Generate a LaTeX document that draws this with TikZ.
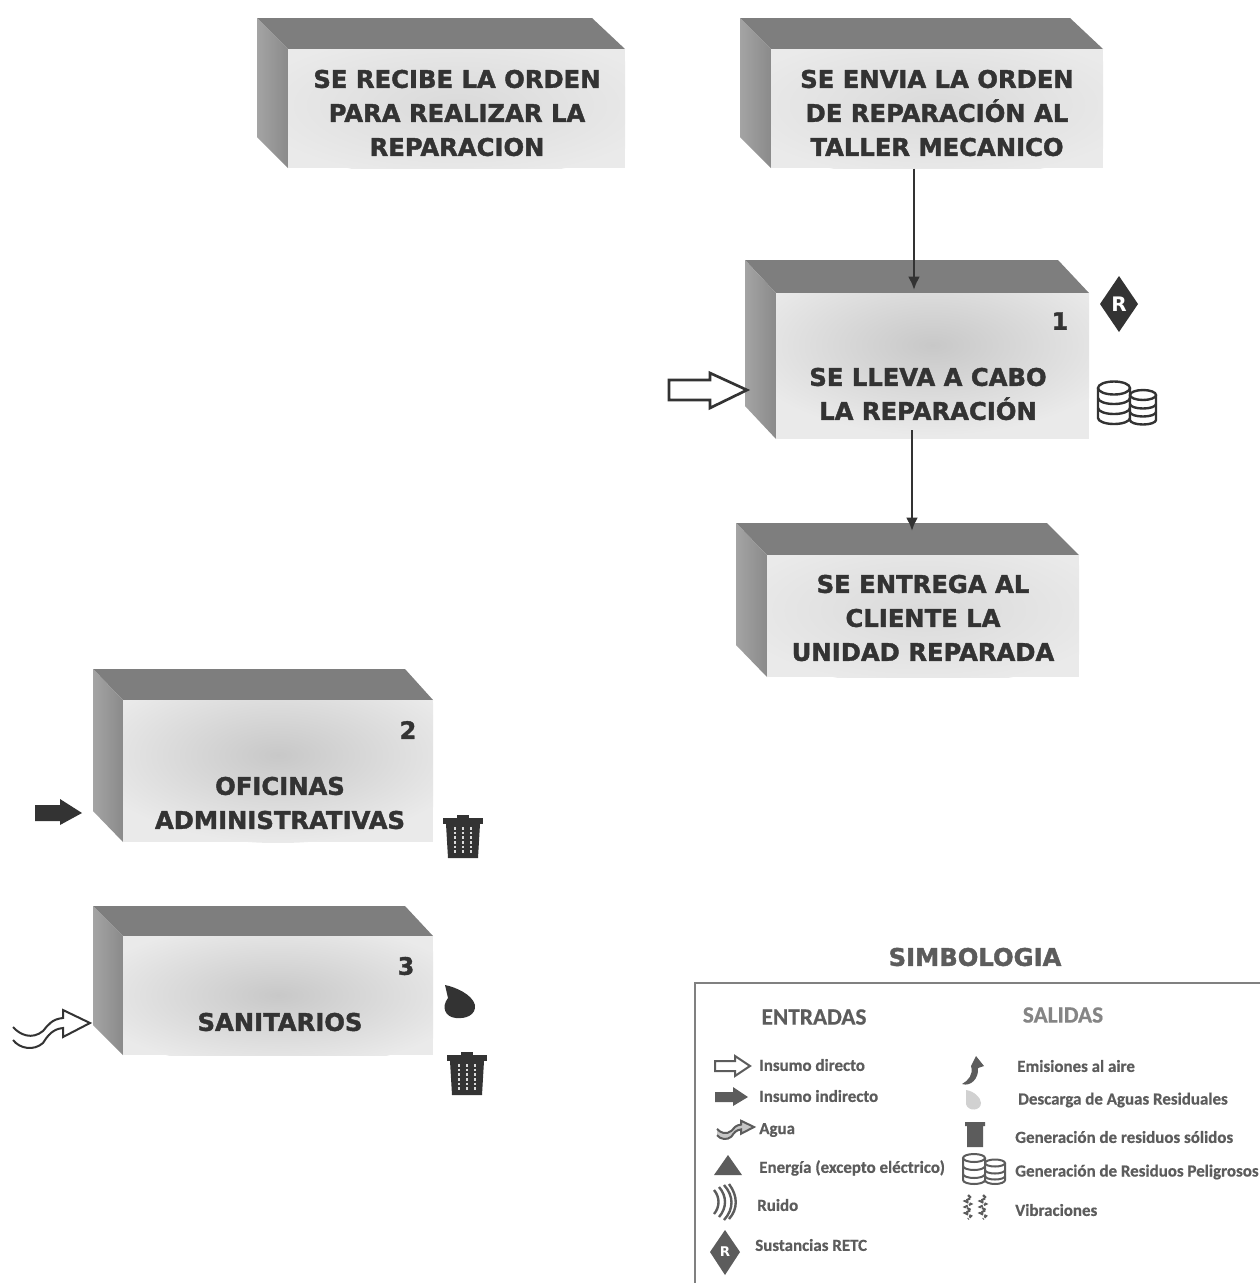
\documentclass[tikz,border=0pt]{standalone}
\usepackage{fontspec}
\setmainfont{DejaVu Sans}
\newfontfamily\boxfont{DejaVu Sans}[BoldFeatures={FakeBold=1.6}]
\newfontfamily\legfont{Carlito}[BoldFeatures={FakeBold=0.6}]
\usetikzlibrary{arrows.meta}
\definecolor{topface}{HTML}{7E7E7E}
\definecolor{leftdark}{HTML}{8A8A8A}
\definecolor{leftlight}{HTML}{A4A4A4}
\definecolor{frontface}{HTML}{EAEAEA}
\definecolor{frontmid}{HTML}{C8C8C8}
\definecolor{frontsoft}{HTML}{DADADA}
\definecolor{ink}{HTML}{333333}
\definecolor{legink}{HTML}{5C5C5C}
\tikzset{
  boxtext/.style={font=\boxfont\fontsize{18.2}{25.5}\selectfont\bfseries,text=ink,align=center,inner sep=0pt},
  numtext/.style={font=\boxfont\fontsize{18}{20}\selectfont\bfseries,text=ink,inner sep=0pt},
  legtext/.style={font=\legfont\fontsize{12.7}{14}\selectfont\bfseries,text=legink,anchor=west,inner sep=0pt},
  leghead/.style={font=\legfont\fontsize{17.5}{18}\selectfont\bfseries,text=legink,inner sep=0pt},
  flow/.style={draw=ink,line width=2pt,-{Latex[length=10pt,width=9pt]}},
  hollow/.style={draw=ink,line width=2pt,fill=white,line join=miter},
  solidicon/.style={fill=ink,draw=none},
  legicon/.style={fill=legink,draw=none},
  legline/.style={draw=legink,line width=1.8pt,fill=none},
  frontnode/.style={fill=frontface,draw=none,inner sep=0pt,anchor=north west},
}
% back left, top, front left, front top, front right, front bottom, back right, centre of shading y, name
\newcommand{\prismbox}[9]{%
  \pgfmathsetmacro{\prw}{(#5-#3)*0.75}%
  \pgfmathsetmacro{\prh}{(#6-#4)*0.75}%
  \pgfmathsetmacro{\prcx}{(#3+#5)/2}%
  \fill[topface] (#1,#2) -- (#7,#2) -- (#5,#4) -- (#3,#4) -- cycle;
  \shade[left color=leftlight,right color=leftdark] (#1,#2) -- (#3,#4) -- (#3,#6) -- (#1,{#6-(#4-#2)}) -- cycle;
  \node[frontnode,minimum width=\prw pt,minimum height=\prh pt] (#9) at (#3,#4) {};
  \begin{scope}
    \clip (#3,#4) rectangle (#5,#6);
    \shade[inner color=\prmid,outer color=frontface] (\prcx,#8) ellipse ({(#5-#3)*0.62} and {(#6-#4)*0.62});
  \end{scope}
}
\newcommand{\trashbin}[4]{% x,y (top left), scale, style
  \begin{scope}[shift={(#1,#2)},scale=#3]
    \fill[#4] (14,0) rectangle (26,3);
    \fill[#4] (0,3) rectangle (40,9);
    \fill[#4] (3,9) -- (37,9) -- (35,43) -- (5,43) -- cycle;
    \foreach \bx in {12,20,28}
      \draw[white!70!gray,line width=0.9pt,dash pattern=on 2pt off 1.5pt] (\bx,12) -- (\bx,38);
  \end{scope}
}
\newcommand{\barrels}[3]{% x,y,colour
  \begin{scope}[shift={(#1,#2)}]
    \begin{scope}[draw=#3,line width=1.8pt,fill=white]
      \draw (1,7) -- (1,37) arc[start angle=180,end angle=0,x radius=16,y radius=6] -- (33,7);
      \draw (17,7) ellipse (16 and 6.5);
      \draw (1,17) arc[start angle=180,end angle=0,x radius=16,y radius=6];
      \draw (1,27) arc[start angle=180,end angle=0,x radius=16,y radius=6];
      \filldraw[fill=white] (33,14) -- (33,39) arc[start angle=180,end angle=0,x radius=13,y radius=4.5] -- (59,14);
      \draw[fill=white] (46,14) ellipse (13 and 5);
      \draw (33,23) arc[start angle=180,end angle=0,x radius=13,y radius=4.5];
      \draw (33,31) arc[start angle=180,end angle=0,x radius=13,y radius=4.5];
    \end{scope}
  \end{scope}
}
\newcommand{\wavyarrow}[4]{% tip x,y,scale,options
  \begin{scope}[shift={(#1,#2)},scale=#3]
    \draw[#4] (-77,4) .. controls (-70,12) and (-58,17) .. (-47,8)
      .. controls (-42,2) and (-38,-4) .. (-27,-5) -- (-27,-13) -- (0,0) -- (-27,14) -- (-27,5)
      .. controls (-37,6) and (-42,12) .. (-47,20)
      .. controls (-56,28) and (-70,26) .. (-77,17);
  \end{scope}
}
\begin{document}
\begin{tikzpicture}[x=0.75pt,y=-0.75pt]
\useasboundingbox (0,0) rectangle (1260,1283);
\fill[white] (0,0) rectangle (1260,1283);

% boxes
\def\prmid{frontsoft}
\prismbox{257}{18}{288}{49}{625}{168}{592}{105}{boxa}
\prismbox{740}{18}{771}{49}{1103}{168}{1070}{105}{boxb}
\prismbox{736}{523}{767}{555}{1079}{677}{1047}{610}{boxd}
\def\prmid{frontmid}
\prismbox{745}{260}{776}{293}{1089}{439}{1058}{345}{boxc}
\prismbox{93}{669}{123}{700}{433}{842}{405}{755}{boxe}
\prismbox{93}{906}{123}{936}{433}{1055}{405}{995}{boxf}

% texts
\node[boxtext] (ta) at (457,113) {SE RECIBE LA ORDEN\\PARA REALIZAR LA\\REPARACION};
\node[boxtext] (tb) at (937,113) {SE ENVIA LA ORDEN\\DE REPARACIÓN AL\\TALLER MECANICO};
\node[boxtext] (tc) at (928,394) {SE LLEVA A CABO\\LA REPARACIÓN};
\node[boxtext] (td) at (923,618) {SE ENTREGA AL\\CLIENTE LA\\UNIDAD REPARADA};
\node[boxtext] (te) at (280,803) {OFICINAS\\ADMINISTRATIVAS};
\node[boxtext] (tf) at (280,1022) {SANITARIOS};
\node[numtext] (n1) at (1060,321) {1};
\node[numtext] (n2) at (408,730) {2};
\node[numtext] (n3) at (406,966) {3};

% connectors
\coordinate (inc) at (914,290);
\coordinate (ind) at (912,531);
\coordinate (outc) at (912,430);
\draw[flow] (boxb.south -| inc) -- (inc);
\draw[flow] (outc) -- (ind);

% input arrows
\draw[hollow] (669,380) -- (710,380) -- (710,373) -- (747,390) -- (710,408) -- (710,400) -- (669,400) -- cycle;
\fill[solidicon] (35,805) -- (60,805) -- (60,799) -- (82,813) -- (60,825) -- (60,821) -- (35,821) -- cycle;
\wavyarrow{90}{1023}{1}{draw=ink,line width=1.5pt,fill=white}

% R diamonds
\node[inner sep=0pt] (rdm) at (1119,304) {};
\fill[ink] (1119,276) -- (1138,304) -- (1119,332) -- (1100,304) -- cycle;
\node[font=\fontsize{15}{16}\selectfont\bfseries,text=white,inner sep=0pt] (rlab) at (rdm) {R};

% barrels, bins, drop
\barrels{1097}{381}{ink}
\trashbin{443}{815}{1}{ink}
\trashbin{447}{1052}{1}{ink}
\fill[ink] (445,985) .. controls (455,987) and (472,994) .. (475,1005)
  .. controls (476,1015) and (466,1019) .. (456,1018)
  .. controls (445,1017) and (441,1007) .. (448,998) -- cycle;

% legend
\node[font=\boxfont\fontsize{18.2}{20}\selectfont\bfseries,text=legink,inner sep=0pt] (sim) at (975,957) {SIMBOLOGIA};
\coordinate (lb) at (695,1283);
\coordinate (lc) at (695,983);
\coordinate (lr) at (1260,983);
\draw[draw=gray,line width=1.8pt] (lb) -- (lc) -- (lr);
\node[leghead] (ent) at (814,1017) {ENTRADAS};
\node[leghead,text=legink!75] (sal) at (1063,1015) {SALIDAS};

\node[legtext] (l1) at (759,1065) {Insumo directo};
\node[legtext] (l2) at (759,1096) {Insumo indirecto};
\node[legtext] (l3) at (759,1130) {Agua};
\node[legtext] (l4) at (759,1168) {Energía (excepto eléctrico)};
\node[legtext] (l5) at (757,1205) {Ruido};
\node[legtext] (l6) at (755,1245) {Sustancias RETC};
\node[legtext] (r1) at (1017,1066) {Emisiones al aire};
\node[legtext] (r2) at (1018,1100) {Descarga de Aguas Residuales};
\node[legtext] (r3) at (1015,1137) {Generación de residuos sólidos};
\node[legtext] (r4) at (1015,1172) {Generación de Residuos Peligrosos};
\node[legtext] (r5) at (1015,1210) {Vibraciones};

% legend icons
\draw[draw=legink,line width=1.5pt,fill=white] (715,1061) -- (735,1061) -- (735,1056) -- (750,1066) -- (735,1076) -- (735,1071) -- (715,1071) -- cycle;
\fill[legicon] (715,1092) -- (733,1092) -- (733,1087) -- (748,1097) -- (733,1106) -- (733,1102) -- (715,1102) -- cycle;
\wavyarrow{754}{1127}{0.48}{draw=legink,line width=1.5pt,fill=legink!35}
\fill[legicon] (728,1155) -- (742,1175) -- (714,1175) -- cycle;
\draw[legline] (714,1190) .. controls (720,1197) and (720,1207) .. (714,1214);
\draw[legline] (719,1187) .. controls (727,1196) and (727,1208) .. (719,1217);
\draw[legline] (724,1185) .. controls (734,1196) and (734,1209) .. (724,1220);
\draw[legline] (729,1184) .. controls (738,1196) and (738,1209) .. (729,1219);
\fill[legicon] (725,1230) -- (740,1252) -- (725,1275) -- (710,1252) -- cycle;
\node[font=\fontsize{10}{11}\selectfont\bfseries,text=white,inner sep=0pt] (rleg) at (725,1252) {R};
% emissions flame
\fill[legicon] (984,1066) -- (976,1056) -- (971,1066) .. controls (974,1074) and (968,1081) .. (962,1084)
  .. controls (971,1087) and (979,1078) .. (978,1068) -- cycle;
% discharge drop
\fill[black!18] (966,1090) .. controls (974,1091) and (981,1098) .. (981,1103)
  .. controls (981,1111) and (968,1112) .. (966,1104) -- cycle;
% bin
\fill[legicon] (965,1122) -- (985,1122) -- (985,1126) -- (983,1126) -- (983,1147) -- (967,1147) -- (967,1126) -- (965,1126) -- cycle;
% barrels
\begin{scope}[shift={(962,1153)}]
  \begin{scope}[draw=legink,line width=1.5pt,fill=white]
    \draw (1,5) -- (1,27) arc[start angle=180,end angle=0,x radius=11,y radius=4] -- (23,5);
    \draw (12,5) ellipse (11 and 4);
    \draw (1,13) arc[start angle=180,end angle=0,x radius=11,y radius=4];
    \draw (1,21) arc[start angle=180,end angle=0,x radius=11,y radius=4];
    \filldraw[fill=white] (23,10) -- (23,27) arc[start angle=180,end angle=0,x radius=10,y radius=4] -- (43,10);
    \draw[fill=white] (33,10) ellipse (10 and 3.5);
    \draw (23,17) arc[start angle=180,end angle=0,x radius=10,y radius=3.5];
    \draw (23,23) arc[start angle=180,end angle=0,x radius=10,y radius=3.5];
  \end{scope}
\end{scope}
% vibrations
\foreach \vx in {968,983}{
  \draw[legline,line width=1.6pt,dash pattern=on 3pt off 1pt] (\vx,1195) -- ++(3,3) -- ++(-6,3) -- ++(6,3) -- ++(-6,3) -- ++(6,3) -- ++(-6,3) -- ++(6,3) -- ++(-3,3);
}
\end{tikzpicture}
\end{document}
